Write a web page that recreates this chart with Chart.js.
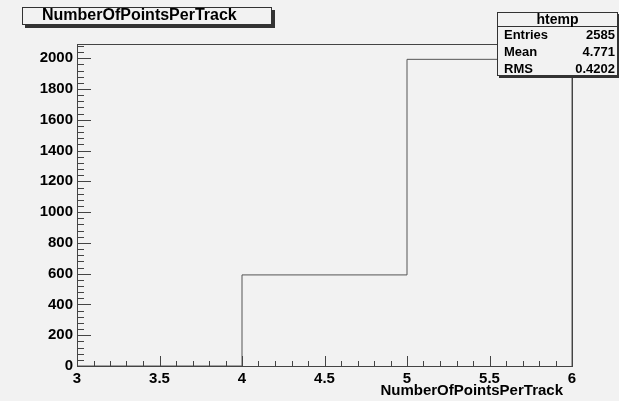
<!DOCTYPE html>
<html>
<head>
<meta charset="utf-8">
<script src="https://cdn.jsdelivr.net/npm/chart.js@4.4.1/dist/chart.umd.min.js"></script>
<style>
body{margin:0;background:#f2f2f2;}
#wrap{width:619px;height:401px;position:relative;}
</style>
</head>
<body>
<div id="wrap"><canvas id="hist" width="619" height="401"></canvas></div>
<script>

// histogram data
const binEdges = [3, 4, 5, 6];
const binCounts = [0, 592, 1993];
const xTickValues = [3, 3.5, 4, 4.5, 5, 5.5, 6];
const yTickValues = [0, 200, 400, 600, 800, 1000, 1200, 1400, 1600, 1800, 2000];
const statNames = ["Entries", "Mean", "RMS"];
const statValues = ["2585", "4.771", "0.4202"];

const histTitle = "NumberOfPointsPerTrack";
const xTitle = "NumberOfPointsPerTrack";
const statsTitle = "htemp";

const FONT = "'Liberation Sans', Arial, sans-serif";

// step outline built from the bins
let points = [];
for (let i = 0; i < binCounts.length; i++) {
  points.push({x: binEdges[i], y: binCounts[i]});
}
points.push({x: binEdges[binEdges.length - 1], y: binCounts[binCounts.length - 1]});
points.push({x: binEdges[binEdges.length - 1], y: 0});

const yMax = Math.max(...binCounts) * 1.05;

const rootFrame = {
  id: "rootFrame",
  afterDraw(chart) {
    const ctx = chart.ctx;
    const a = chart.chartArea;
    const xs = chart.scales.x;
    const ys = chart.scales.y;
    ctx.save();
    ctx.strokeStyle = "#444";
    ctx.lineWidth = 1;
    ctx.strokeRect(a.left + 0.5, a.top + 0.5, a.right - a.left, a.bottom - a.top);

    // x ticks (major 0.5, minor 0.1)
    ctx.beginPath();
    for (let i = 0; i <= 30; i++) {
      const v = 3 + i * 0.1;
      const px = Math.round(xs.getPixelForValue(v)) + 0.5;
      const len = (i % 5 === 0) ? 10 : 5;
      ctx.moveTo(px, a.bottom);
      ctx.lineTo(px, a.bottom - len);
    }
    // y ticks (major 200, minor 40)
    for (let v = 0; v <= yMax; v += 40) {
      const py = Math.round(ys.getPixelForValue(v)) + 0.5;
      const len = (v % 200 === 0) ? 14 : 7;
      ctx.moveTo(a.left, py);
      ctx.lineTo(a.left + len, py);
    }
    ctx.stroke();

    // axis title
    ctx.fillStyle = "#000";
    ctx.font = "bold 15px " + FONT;
    ctx.textAlign = "right";
    ctx.textBaseline = "middle";
    ctx.fillText(xTitle, 563, 391);

    // title box
    ctx.fillStyle = "#333";
    ctx.fillRect(25, 10, 250, 18);
    ctx.fillStyle = "#f2f2f2";
    ctx.fillRect(22, 7, 250, 18);
    ctx.strokeStyle = "#333";
    ctx.strokeRect(22.5, 7.5, 249, 17);
    ctx.fillStyle = "#000";
    ctx.font = "bold 16px " + FONT;
    ctx.textAlign = "left";
    ctx.fillText(histTitle, 42, 16);

    // stats box
    const bx = 497, by = 12, bw = 121, bh = 64;
    ctx.fillStyle = "#333";
    ctx.fillRect(bx + 2, by + 2, bw, bh);
    ctx.fillStyle = "#f2f2f2";
    ctx.fillRect(bx, by, bw, bh);
    ctx.strokeStyle = "#333";
    ctx.strokeRect(bx + 0.5, by + 0.5, bw - 1, bh - 1);
    ctx.beginPath();
    ctx.moveTo(bx, 26.5);
    ctx.lineTo(bx + bw, 26.5);
    ctx.stroke();
    ctx.fillStyle = "#000";
    ctx.font = "bold 14px " + FONT;
    ctx.textAlign = "center";
    ctx.fillText(statsTitle, bx + bw / 2, 20);
    ctx.font = "bold 13px " + FONT;
    for (let i = 0; i < statNames.length; i++) {
      const ty = 35 + i * 17;
      ctx.textAlign = "left";
      ctx.fillText(statNames[i], bx + 7, ty);
      ctx.textAlign = "right";
      ctx.fillText(statValues[i], 615, ty);
    }
    ctx.restore();
  }
};

const bg = {
  id: "bg",
  beforeDraw(chart) {
    const ctx = chart.ctx;
    ctx.save();
    ctx.fillStyle = "#f2f2f2";
    ctx.fillRect(0, 0, chart.width, chart.height);
    ctx.restore();
  }
};

new Chart(document.getElementById("hist"), {
  type: "line",
  data: {
    datasets: [{
      data: points,
      stepped: "before",
      borderColor: "#555",
      borderWidth: 1,
      pointRadius: 0,
      fill: false,
      clip: 3
    }]
  },
  options: {
    responsive: false,
    animation: false,
    layout: {padding: {top: 44, right: 47, left: 0, bottom: 0}},
    plugins: {legend: {display: false}, tooltip: {enabled: false}},
    scales: {
      x: {
        type: "linear",
        min: 3,
        max: 6,
        afterBuildTicks: s => { s.ticks = xTickValues.map(v => ({value: v})); },
        afterFit: s => { s.height = 35; },
        grid: {display: false, drawTicks: false},
        border: {display: false},
        ticks: {
          color: "#000",
          padding: 4,
          maxRotation: 0,
          autoSkip: false,
          callback: v => String(v),
          font: {family: FONT, size: 15, weight: "bold"}
        }
      },
      y: {
        min: 0,
        max: yMax,
        afterBuildTicks: s => { s.ticks = yTickValues.map(v => ({value: v})); },
        afterFit: s => { s.width = 77; },
        grid: {display: false, drawTicks: false},
        border: {display: false},
        ticks: {
          color: "#000",
          padding: 4,
          autoSkip: false,
          callback: v => String(v),
          font: {family: FONT, size: 15, weight: "bold"}
        }
      }
    }
  },
  plugins: [bg, rootFrame]
});
</script>
</body>
</html>
